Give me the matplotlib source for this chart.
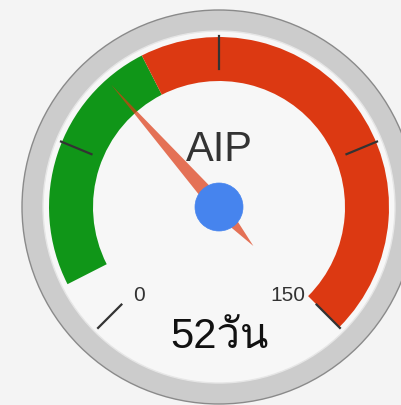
import numpy as np
import matplotlib
matplotlib.use("Agg")
import matplotlib.pyplot as plt
from matplotlib.patches import Circle, Wedge, Polygon
from matplotlib import font_manager
from matplotlib.ft2font import FT2Font

# gauge data
title = "AIP"
value = 52
value_label = "52วัน"
min_val, max_val = 0, 150
band_from = [10, 60]
band_to = [60, 150]
band_colors = ["#109618", "#dc3912"]
major_ticks = [0, 37.5, 75, 112.5, 150]
min_label, max_label = "0", "150"


def find_thai_font():
    # look for any installed font that has Thai glyphs
    for f in font_manager.fontManager.ttflist:
        try:
            cmap = FT2Font(f.fname).get_charmap()
        except Exception:
            continue
        if all(c in cmap for c in (0x0E27, 0x0E31, 0x0E19)):
            return f.name
    return None


thai = find_thai_font()
value_family = ["Liberation Sans"] + ([thai] if thai else []) + ["DejaVu Sans"]


def angle(v):
    # degrees counter-clockwise from +x, gauge spans 270 degrees
    top = -135 + 270 * (v - min_val) / (max_val - min_val)
    return 90 - top


def point(v, r):
    a = np.radians(angle(v))
    return cx + r * np.cos(a), cy + r * np.sin(a)


fig = plt.figure(figsize=(4.01, 4.06), dpi=100)
fig.patch.set_facecolor("#f4f4f4")
ax = fig.add_axes([0, 0, 1, 1])
ax.set_xlim(0, 401)
ax.set_ylim(0, 406)
ax.set_aspect("equal")
ax.axis("off")

cx, cy = 219, 406 - 208
R = 197

# outer ring and face
ax.add_patch(Circle((cx, cy), R, facecolor="#cccccc", edgecolor="#8a8a8a", linewidth=1.0, zorder=1))
ax.add_patch(Circle((cx, cy), 176, facecolor="#f7f7f7", edgecolor="#e6e6e6", linewidth=1.0, zorder=2))

# colour bands
for v1, v2, col in zip(band_from, band_to, band_colors):
    ax.add_patch(Wedge((cx, cy), 170, angle(v2), angle(v1), width=44, facecolor=col,
                       edgecolor="none", zorder=3))

# major ticks
for t in major_ticks:
    x0, y0 = point(t, 138)
    x1, y1 = point(t, 171)
    ax.plot([x0, x1], [y0, y1], color="#333333", linewidth=1.6, zorder=4)

# min / max labels
ax.text(cx - 86, cy - 88, min_label, fontsize=15, color="#333333", ha="left", va="center",
        family="Liberation Sans", zorder=4)
ax.text(cx + 86, cy - 88, max_label, fontsize=15, color="#333333", ha="right", va="center",
        family="Liberation Sans", zorder=4)

# title and value
ax.text(cx, cy + 58, title, fontsize=30, color="#333333", ha="center", va="center",
        family="Liberation Sans", zorder=4)
ax.text(cx, cy - 129, value_label, fontsize=30, color="#111111", ha="center", va="center",
        family=value_family, zorder=4)

# needle
a = np.radians(angle(value))
ux, uy = np.cos(a), np.sin(a)
px, py = -uy, ux
hw = 8
needle = [(cx + 163 * ux, cy + 163 * uy),
          (cx + hw * px, cy + hw * py),
          (cx - 52 * ux, cy - 52 * uy),
          (cx - hw * px, cy - hw * py)]
ax.add_patch(Polygon(needle, closed=True, facecolor="#dc3912", alpha=0.7, edgecolor="none", zorder=5))

# hub
ax.add_patch(Circle((cx, cy), 24, facecolor="#4684ee", edgecolor="#4684ee", linewidth=0.5, zorder=6))

fig.savefig("out.png", dpi=100, facecolor=fig.get_facecolor())
